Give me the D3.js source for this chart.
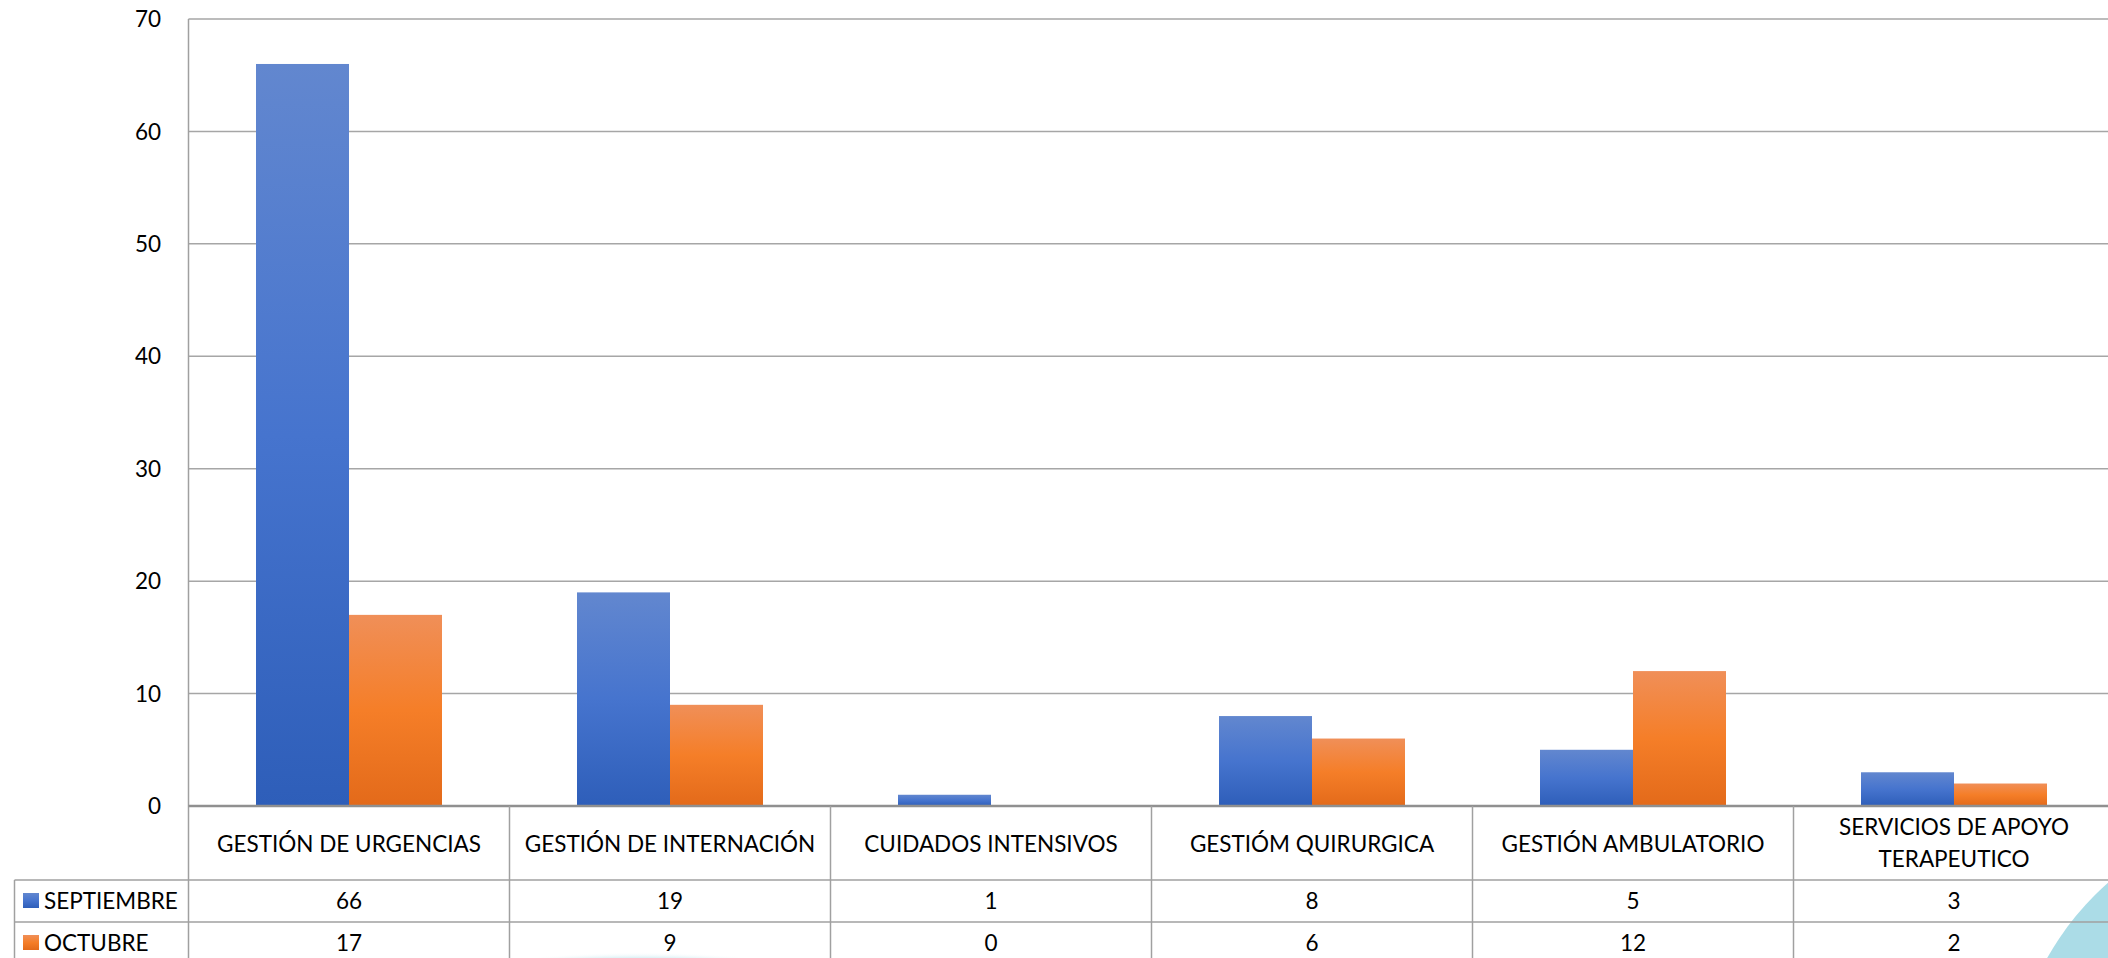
<!DOCTYPE html>
<html>
<head>
<meta charset="utf-8">
<script src="https://cdn.jsdelivr.net/npm/d3@7"></script>
<style>
  html, body { margin: 0; padding: 0; background: #ffffff; overflow: hidden; }
  svg { display: block; }
  text { font-family: Lato, "Open Sans", sans-serif; fill: #000; }
</style>
</head>
<body>
<svg id="chart" width="2108" height="958"></svg>
<script>
// ---- data ----
const categories = [
  ["GESTIÓN DE URGENCIAS"],
  ["GESTIÓN DE INTERNACIÓN"],
  ["CUIDADOS INTENSIVOS"],
  ["GESTIÓM QUIRURGICA"],
  ["GESTIÓN AMBULATORIO"],
  ["SERVICIOS DE APOYO", "TERAPEUTICO"]
];
const seriesNames = ["SEPTIEMBRE", "OCTUBRE"];
const septiembre = [66, 19, 1, 8, 5, 3];
const octubre = [17, 9, 0, 6, 12, 2];
const yTicks = [0, 10, 20, 30, 40, 50, 60, 70];

const seriesValues = [septiembre, octubre];
const catKeys = categories.map(c => c.join(" "));

const svg = d3.select("#chart");
const W = 2108, H = 958;
const FS = 22.5;

// layout
const plotLeft = 188.5, bandW = 321;
const plotRight = plotLeft + bandW * categories.length;
const yTop = 19, yZero = 806;
const row1 = 880, row2 = 922, row3 = 964;
const legendLeft = 14.5;

const x0 = d3.scaleBand().domain(catKeys).range([plotLeft, plotRight]).paddingInner(0).paddingOuter(0);
const x1 = d3.scaleBand().domain(seriesNames).range([67.5, bandW - 67.5]).padding(0);
const y = d3.scaleLinear().domain([0, 70]).range([yZero, yTop]);

// gradients
const defs = svg.append("defs");
const grads = [
  {id: "gBlue", stops: [["0%", "#6287cf"], ["50%", "#4674ce"], ["100%", "#2e5eb9"]]},
  {id: "gOrange", stops: [["0%", "#f08f58"], ["50%", "#f57e28"], ["100%", "#e36a1a"]]}
];
grads.forEach(g => {
  const lg = defs.append("linearGradient").attr("id", g.id).attr("x1", 0).attr("y1", 0).attr("x2", 0).attr("y2", 1);
  g.stops.forEach(s => lg.append("stop").attr("offset", s[0]).attr("stop-color", s[1]));
});
const rg = defs.append("radialGradient").attr("id", "gCyan").attr("cx", "50%").attr("cy", "50%").attr("r", "50%");
rg.append("stop").attr("offset", "0%").attr("stop-color", "#bfe6ee").attr("stop-opacity", 1);
rg.append("stop").attr("offset", "85%").attr("stop-color", "#c4e8ef").attr("stop-opacity", 0.9);
rg.append("stop").attr("offset", "100%").attr("stop-color", "#ffffff").attr("stop-opacity", 0);
const fills = ["url(#gBlue)", "url(#gOrange)"];

// background decorations (slide template)
svg.append("ellipse").attr("cx", 640).attr("cy", 1000).attr("rx", 240).attr("ry", 48).attr("fill", "url(#gCyan)");
svg.append("circle").attr("cx", 2300).attr("cy", 1100).attr("r", 290).attr("fill", "#abdce7");

// gridlines
svg.append("g").selectAll("line").data(yTicks.filter(t => t > 0)).join("line")
  .attr("x1", plotLeft).attr("x2", plotRight)
  .attr("y1", d => y(d)).attr("y2", d => y(d))
  .attr("stroke", "#a6a6a6").attr("stroke-width", 1.5);

// y axis labels
svg.append("g").selectAll("text").data(yTicks).join("text")
  .attr("x", 161).attr("y", d => y(d)).attr("dy", "0.36em")
  .attr("text-anchor", "end").attr("font-size", FS)
  .text(d => d);

// bars
const groups = svg.append("g").selectAll("g").data(catKeys).join("g")
  .attr("transform", d => `translate(${x0(d)},0)`);
groups.selectAll("rect").data((d, i) => seriesNames.map((s, j) => ({s, j, v: seriesValues[j][i]})))
  .join("rect")
  .attr("x", d => x1(d.s)).attr("width", x1.bandwidth())
  .attr("y", d => y(d.v)).attr("height", d => y(0) - y(d.v))
  .attr("fill", d => fills[d.j]);

// axis/table lines
const grid = svg.append("g").attr("stroke", "#a0a0a0").attr("stroke-width", 1.5).attr("fill", "none");
grid.append("line").attr("x1", plotLeft).attr("x2", plotLeft).attr("y1", yTop).attr("y2", H + 5);
grid.append("line").attr("x1", plotLeft).attr("x2", plotRight).attr("y1", yZero).attr("y2", yZero).attr("stroke-width", 2.5).attr("stroke", "#909090");
[row1, row2].forEach(r => grid.append("line").attr("x1", legendLeft).attr("x2", plotRight).attr("y1", r).attr("y2", r));
grid.append("line").attr("x1", legendLeft).attr("x2", legendLeft).attr("y1", row1).attr("y2", H + 5);
catKeys.forEach(k => {
  grid.append("line").attr("x1", x0(k) + bandW).attr("x2", x0(k) + bandW).attr("y1", yZero).attr("y2", H + 5);
});

// category labels
const catG = svg.append("g").selectAll("text").data(categories).join("text")
  .attr("text-anchor", "middle").attr("font-size", FS)
  .attr("x", (d, i) => x0(catKeys[i]) + bandW / 2)
  .attr("y", d => d.length === 1 ? (yZero + row1) / 2 + 1 : (yZero + row1) / 2 - 16);
catG.selectAll("tspan").data(d => d).join("tspan")
  .attr("x", function() { return this.parentNode.getAttribute("x"); })
  .attr("dy", (d, i) => i === 0 ? "0.36em" : 32)
  .text(d => d);

// data rows with legend keys
const rows = [row1, row2];
seriesNames.forEach((s, j) => {
  const cy = (rows[j] + (j === 0 ? row2 : row3)) / 2;
  svg.append("rect").attr("x", 23).attr("y", cy - 8).attr("width", 16).attr("height", 15).attr("fill", fills[j]);
  svg.append("text").attr("x", 44).attr("y", cy).attr("dy", "0.36em").attr("font-size", FS).text(s);
  svg.append("g").selectAll("text").data(seriesValues[j]).join("text")
    .attr("x", (d, i) => x0(catKeys[i]) + bandW / 2).attr("y", cy).attr("dy", "0.36em")
    .attr("text-anchor", "middle").attr("font-size", FS)
    .text(d => d);
});
</script>
</body>
</html>
